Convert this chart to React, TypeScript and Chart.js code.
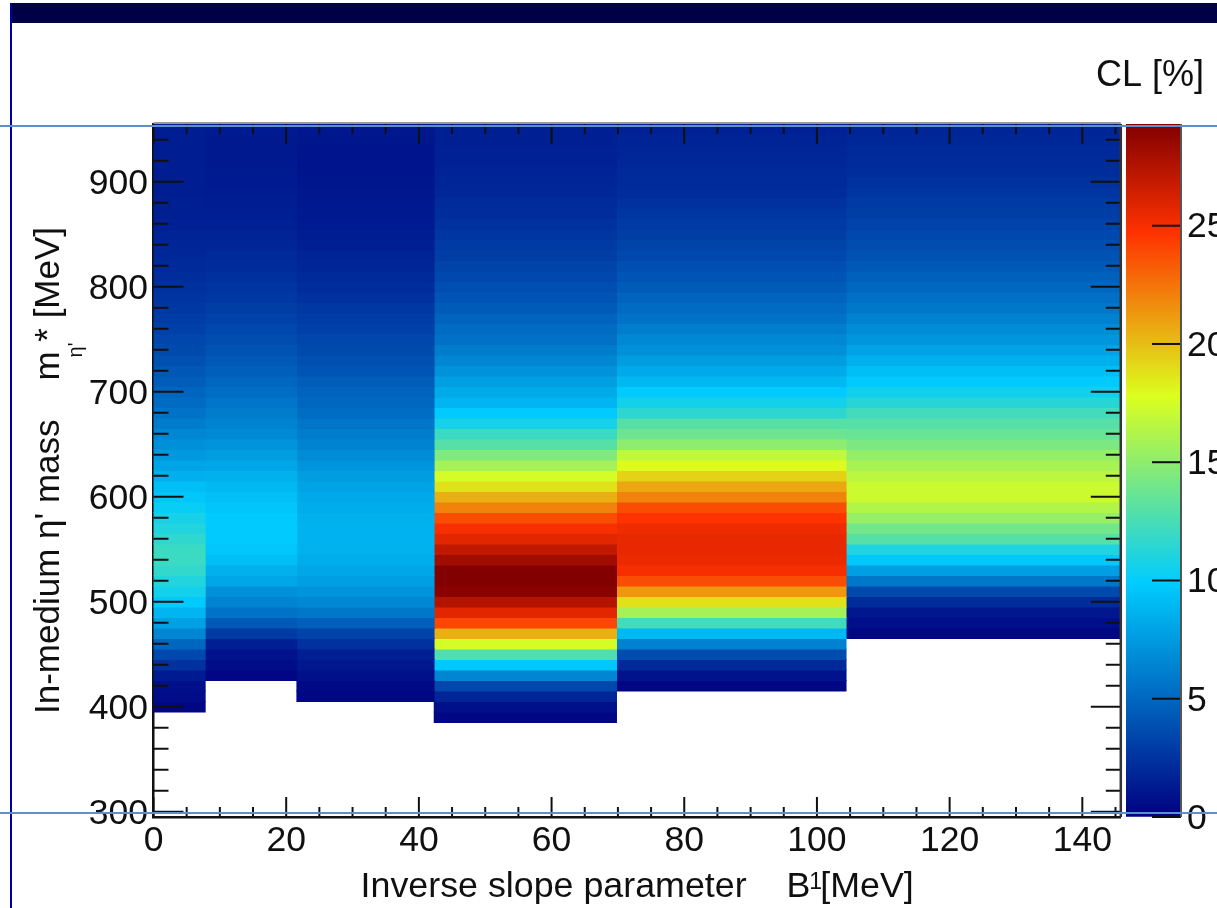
import React, { useEffect, useRef } from "react";
import { Chart, registerables } from "chart.js";

Chart.register(...registerables);

// Column edges of the inverse slope parameter axis (MeV)
const slopeEdges = [0, 7.8, 21.6, 42.3, 69.8, 104.4, 145.8];
// First mass bin centre of each column (MeV); bins are 10 MeV wide
const columnStart = [400, 430, 410, 390, 420, 470];

const clColumn1 = [0.3, 0.6, 0.8, 1.3, 2.4, 3.5, 5, 6.5, 7.8, 8.8, 9.8, 10.6, 11.1, 11.7, 12, 12, 11.6, 11.1, 10.7, 10.2, 9.6, 9.2, 8.5, 8, 7.4, 7, 6.5, 6, 5.6, 5.2, 4.9, 4.5, 4.2, 3.9, 3.6, 3.4, 3.1, 2.9, 2.7, 2.5, 2.3, 2.2, 2, 1.9, 1.8, 1.7, 1.6, 1.5, 1.5, 1.4, 1.4, 1.4, 1.4, 1.4, 1.4, 1.4];
const clColumn2 = [0.3, 0.6, 0.9, 1.5, 2.8, 4.3, 5.6, 6.4, 7, 8.1, 8.6, 9.2, 9.6, 9.8, 9.8, 9.8, 9.6, 9.3, 9, 8.6, 8.1, 7.6, 7.2, 6.7, 6.4, 6, 5.7, 5.3, 5, 4.6, 4.3, 4, 3.7, 3.5, 3.2, 3, 2.7, 2.5, 2.3, 2.1, 2, 1.8, 1.7, 1.6, 1.5, 1.4, 1.35, 1.3, 1.25, 1.2, 1.2, 1.2, 1.3];
const clColumn3 = [0.3, 0.5, 0.8, 1.1, 1.5, 2.4, 3.3, 4.6, 5.8, 6.6, 7.2, 7.7, 8.1, 8.4, 8.6, 8.7, 8.7, 8.6, 8.4, 8.2, 7.9, 7.6, 7.2, 6.8, 6.4, 6, 5.7, 5.3, 5, 4.8, 4.5, 4.1, 3.9, 3.6, 3.4, 3.1, 2.9, 2.7, 2.4, 2.2, 2, 1.8, 1.7, 1.5, 1.4, 1.3, 1.2, 1.15, 1.1, 1.05, 1, 1, 1, 1.05, 1.1];
const clColumn4 = [0.3, 0.8, 1.8, 3.5, 6.5, 9.7, 12.7, 17.5, 20.5, 24, 25.8, 27.5, 29, 29.3, 29.3, 28.2, 27, 25.8, 25, 23.8, 22, 20.5, 18.8, 17.5, 15.8, 14.5, 13, 12, 10.7, 9.8, 8.8, 8.3, 7.7, 7.1, 6.5, 6, 5.5, 5.2, 4.8, 4.4, 4.1, 3.8, 3.5, 3.3, 3, 2.8, 2.6, 2.4, 2.2, 2.1, 1.9, 1.8, 1.7, 1.6, 1.6, 1.5, 1.5];
const clColumn5 = [0.3, 0.9, 2, 3.7, 6.3, 9, 12.3, 15.8, 18.8, 21.3, 23.8, 25, 25.4, 25.6, 25.6, 25.3, 24.7, 23.8, 22, 20.8, 19.3, 17.9, 16.8, 15, 13.8, 13, 11.5, 10.6, 9.8, 9, 8.2, 7.6, 7, 6.6, 6.1, 5.6, 5.2, 4.8, 4.4, 4.1, 3.8, 3.5, 3.3, 3, 2.8, 2.6, 2.4, 2.2, 2.1, 2, 1.9, 1.8, 1.7, 1.6];
const clColumn6 = [0.3, 0.7, 1.1, 2.1, 3.6, 5.8, 7.7, 9.7, 11, 13, 14, 15.3, 16.3, 17.2, 17.2, 16.6, 15.9, 15.2, 14.3, 13.6, 13, 12.3, 11.3, 10.5, 9.8, 9.2, 8.5, 7.9, 7.3, 6.8, 6.3, 5.8, 5.4, 5, 4.7, 4.3, 4, 3.7, 3.5, 3.2, 3, 2.8, 2.6, 2.4, 2.2, 2.1, 2, 1.9, 1.8];
const clColumns = [clColumn1, clColumn2, clColumn3, clColumn4, clColumn5, clColumn6];

// Palette: CL value -> colour stop
const paletteValues = [0, 9.9, 17.8, 24.7, 29.3];
const paletteColours = [[0, 0, 128], [0, 204, 255], [220, 255, 30], [255, 50, 0], [130, 0, 0]];
const clMax = 29.3;

// Axis ticks
const xMajor = [0, 20, 40, 60, 80, 100, 120, 140];
const xMinor = [5, 10, 15, 25, 30, 35, 45, 50, 55, 65, 70, 75, 85, 90, 95, 105, 110, 115, 125, 130, 135, 145];
const yMajor = [300, 400, 500, 600, 700, 800, 900];
const yMinor = [320, 340, 360, 380, 420, 440, 460, 480, 520, 540, 560, 580, 620, 640, 660, 680, 720, 740, 760, 780, 820, 840, 860, 880, 920, 940];
const clTicks = [0, 5, 10, 15, 20, 25];

const xTitle = "Inverse slope parameter    B [MeV]";
const xTitlePrefix = "Inverse slope parameter    B";
const yTitle = "In-medium η' mass    m * [MeV]";
const yTitlePrefix = "In-medium η' mass    m";
const clTitle = "CL [%]";

const FONT = "'Liberation Sans', Arial, sans-serif";
const TICK_SIZE = 35.5;
const X_TITLE_SIZE = 35.8;
const Y_TITLE_SIZE = 35;
const INK = "#101010";

function colourFor(v: number): string {
  let i = 0;
  while (i < paletteValues.length - 2 && v > paletteValues[i + 1]) i++;
  const t = Math.min(1, Math.max(0, (v - paletteValues[i]) / (paletteValues[i + 1] - paletteValues[i])));
  const a = paletteColours[i];
  const b = paletteColours[i + 1];
  return `rgb(${Math.round(a[0] + (b[0] - a[0]) * t)},${Math.round(a[1] + (b[1] - a[1]) * t)},${Math.round(a[2] + (b[2] - a[2]) * t)})`;
}

const frameAndTicks = {
  id: "frameAndTicks",
  afterDatasetsDraw(chart: any) {
    const { ctx, chartArea: a, scales } = chart;
    const { x, y } = scales;
    ctx.save();
    ctx.strokeStyle = INK;
    ctx.lineWidth = 2;
    const seg = (x1: number, y1: number, x2: number, y2: number) => {
      ctx.beginPath();
      ctx.moveTo(x1, y1);
      ctx.lineTo(x2, y2);
      ctx.stroke();
    };
    const xTick = (v: number, len: number) => {
      const p = x.getPixelForValue(v);
      seg(p, a.bottom, p, a.bottom - len);
      seg(p, a.top, p, a.top + len);
    };
    const yTick = (v: number, len: number) => {
      const p = y.getPixelForValue(v);
      seg(a.left, p, a.left + len, p);
      seg(a.right, p, a.right - len, p);
    };
    xMajor.forEach((v) => xTick(v, 20));
    xMinor.forEach((v) => xTick(v, 10));
    yMajor.forEach((v) => yTick(v, 30));
    yMinor.forEach((v) => yTick(v, 15));
    ctx.strokeStyle = "#333";
    ctx.lineWidth = 2.5;
    seg(a.right, a.top, a.right, a.bottom);
    ctx.strokeStyle = "#999";
    ctx.lineWidth = 2;
    seg(a.left, a.top - 1, a.right, a.top - 1);
    ctx.restore();
  },
  afterDraw(chart: any) {
    const { ctx, chartArea: a } = chart;
    ctx.save();
    ctx.fillStyle = INK;
    ctx.textBaseline = "alphabetic";
    ctx.textAlign = "left";
    // superscript of the x title
    ctx.font = `${X_TITLE_SIZE}px ${FONT}`;
    const xStart = (a.left + a.right) / 2 - ctx.measureText(xTitle).width / 2;
    const supX = xStart + ctx.measureText(xTitlePrefix).width;
    ctx.font = `23px ${FONT}`;
    ctx.fillText("1", supX - 1, 889);
    // palette title
    ctx.font = `36px ${FONT}`;
    ctx.textAlign = "right";
    ctx.fillText(clTitle, 1204, 86);
    ctx.textAlign = "left";
    // subscript of the y title
    ctx.font = `${Y_TITLE_SIZE}px ${FONT}`;
    const yStart = -ctx.measureText(yTitle).width / 2;
    const subOff = yStart + ctx.measureText(yTitlePrefix).width - 6;
    ctx.translate(0, (a.top + a.bottom) / 2);
    ctx.rotate(-Math.PI / 2);
    ctx.font = `20px ${FONT}`;
    ctx.fillText("η'", subOff, 82);
    ctx.restore();
  },
};

const clTickPlugin = {
  id: "clTicks",
  afterDatasetsDraw(chart: any) {
    const { ctx, chartArea: a, scales } = chart;
    ctx.save();
    ctx.strokeStyle = INK;
    ctx.lineWidth = 2;
    clTicks.forEach((v) => {
      const p = scales.y.getPixelForValue(v);
      ctx.beginPath();
      ctx.moveTo(a.right, p);
      ctx.lineTo(a.right - 29, p);
      ctx.stroke();
    });
    ctx.strokeStyle = "#555";
    ctx.lineWidth = 2;
    ctx.beginPath();
    ctx.moveTo(a.right, a.top);
    ctx.lineTo(a.right, a.bottom);
    ctx.stroke();
    ctx.restore();
  },
};

export default function App() {
  const mainRef = useRef<HTMLCanvasElement>(null);
  const barRef = useRef<HTMLCanvasElement>(null);

  useEffect(() => {
    const datasets = clColumns.map((values, c) => {
      const lo = slopeEdges[c];
      const hi = slopeEdges[c + 1];
      return {
        label: `B' ${lo}-${hi} MeV`,
        data: values.map((_, i) => {
          const m = columnStart[c] + i * 10;
          return { x: (lo + hi) / 2, y: [m - 5, m + 5] };
        }),
        backgroundColor: values.map(colourFor),
        borderWidth: 0,
        inflateAmount: 0.4,
        barThickness: (ctx: any) => {
          const s = ctx.chart.scales.x;
          return s.getPixelForValue(hi) - s.getPixelForValue(lo);
        },
      };
    });

    const main = new Chart(mainRef.current!, {
      type: "bar",
      data: { datasets } as any,
      options: {
        animation: false,
        responsive: false,
        events: [],
        layout: { padding: { top: 124, right: 96.2, left: 0, bottom: 0 } },
        plugins: { legend: { display: false }, tooltip: { enabled: false }, title: { display: false } },
        datasets: { bar: { grouped: false } },
        scales: {
          x: {
            type: "linear",
            offset: false,
            min: 0,
            max: 145.8,
            afterFit: (s: any) => { s.height = 91; },
            afterBuildTicks: (s: any) => { s.ticks = xMajor.map((value) => ({ value })); },
            grid: { drawOnChartArea: false, drawTicks: false },
            border: { display: true, color: INK, width: 2.5 },
            ticks: { autoSkip: false, maxRotation: 0, padding: 3, color: INK, font: { family: FONT, size: TICK_SIZE } },
            title: { display: true, text: xTitle, color: INK, padding: { top: 0, bottom: -1 }, font: { family: FONT, size: X_TITLE_SIZE } },
          },
          y: {
            type: "linear",
            min: 295,
            max: 955,
            afterFit: (s: any) => { s.width = 153.5; },
            afterBuildTicks: (s: any) => { s.ticks = yMajor.map((value) => ({ value })); },
            grid: { drawOnChartArea: false, drawTicks: false },
            border: { display: true, color: INK, width: 2.5 },
            ticks: { autoSkip: false, padding: 5.5, labelOffset: 2, color: INK, font: { family: FONT, size: TICK_SIZE } },
            title: { display: true, text: yTitle, color: INK, padding: { top: 28, bottom: 0 }, font: { family: FONT, size: Y_TITLE_SIZE } },
          },
        },
      } as any,
      plugins: [frameAndTicks],
    });

    const bar = new Chart(barRef.current!, {
      type: "bar",
      data: {
        labels: ["CL"],
        datasets: [
          {
            label: clTitle,
            data: [[0, clMax]],
            borderWidth: 0,
            barPercentage: 1,
            categoryPercentage: 1,
            backgroundColor: (ctx: any) => {
              const a = ctx.chart.chartArea;
              if (!a) return "#000080";
              const s = ctx.chart.scales.y;
              const g = ctx.chart.ctx.createLinearGradient(0, s.getPixelForValue(0), 0, s.getPixelForValue(clMax));
              paletteValues.forEach((v, i) => {
                const c = paletteColours[i];
                g.addColorStop(v / clMax, `rgb(${c[0]},${c[1]},${c[2]})`);
              });
              return g;
            },
          },
        ],
      },
      options: {
        animation: false,
        responsive: false,
        events: [],
        layout: { padding: { left: 43, right: 0, top: 124, bottom: 91 } },
        plugins: { legend: { display: false }, tooltip: { enabled: false }, title: { display: false } },
        scales: {
          x: { display: false },
          y: {
            position: "right",
            min: 0,
            max: clMax,
            afterFit: (s: any) => { s.width = 36; },
            afterBuildTicks: (s: any) => { s.ticks = clTicks.map((value) => ({ value })); },
            grid: { drawOnChartArea: false, drawTicks: false },
            border: { display: false },
            ticks: { autoSkip: false, padding: 6, labelOffset: 2, color: INK, font: { family: FONT, size: TICK_SIZE } },
          },
        },
      } as any,
      plugins: [clTickPlugin],
    });

    return () => {
      main.destroy();
      bar.destroy();
    };
  }, []);

  const strip = (style: React.CSSProperties) => (
    <div style={{ position: "absolute", pointerEvents: "none", ...style }} />
  );

  return (
    <div style={{ position: "fixed", left: 0, top: 0, width: 1217, height: 908, overflow: "hidden", background: "#fff" }}>
      <div style={{ position: "absolute", inset: 0, filter: "blur(0.5px)" }}>
        <canvas ref={mainRef} width={1217} height={908} style={{ position: "absolute", left: 0, top: 0 }} />
        <canvas ref={barRef} width={134} height={908} style={{ position: "absolute", left: 1083, top: 0 }} />
      </div>
      {strip({ left: 10, top: 3, right: 0, height: 20, background: "#000046" })}
      {strip({ left: 10, top: 3, width: 2, bottom: 0, background: "#0000a0" })}
      {strip({ left: 0, right: 0, top: 125, height: 1.5, background: "#5c8fd0" })}
      {strip({ left: 0, right: 0, top: 812, height: 1.5, background: "#5c8fd0" })}
    </div>
  );
}
